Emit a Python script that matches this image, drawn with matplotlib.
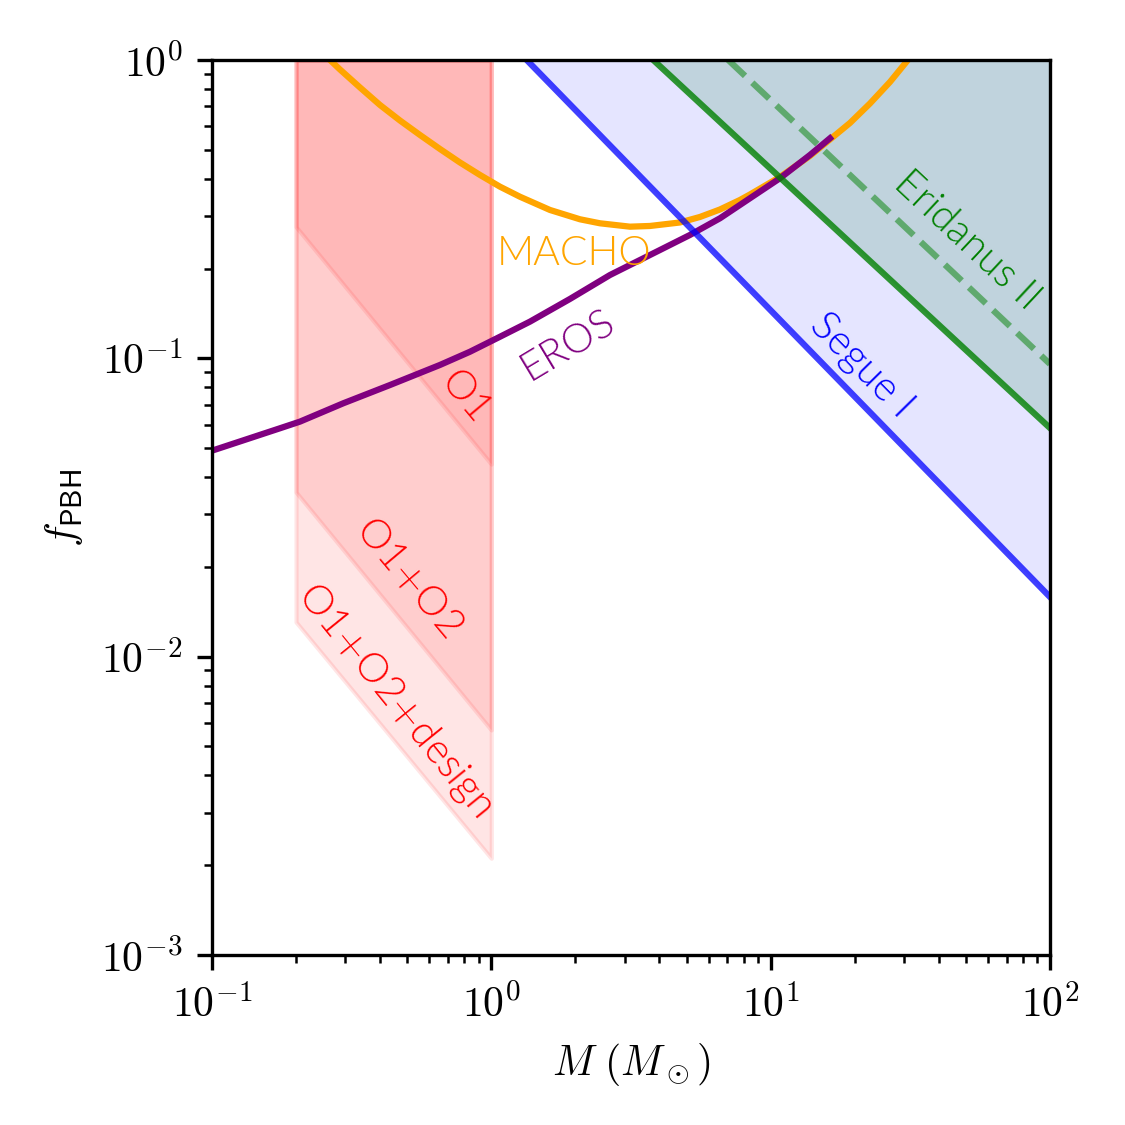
import matplotlib
matplotlib.use("Agg")
import matplotlib.pyplot as plt
from matplotlib.ticker import FuncFormatter, NullFormatter
import numpy as np

plt.rcParams.update(
    {
        "font.family": ["Lato", "DejaVu Sans"],
        "mathtext.fontset": "cm",
        "font.size": 10,
    }
)

# LIGO O1 / O1+O2 / O1+O2+design bands: mass range and lower edge of each band
band_mass = [0.2, 1.0]
o1_low = [0.276, 0.0442]
o12_low = [0.0356, 0.00568]
o12d_low = [0.01306, 0.00211]

# MACHO bound
macho_m = [0.2645, 0.2872, 0.3387, 0.3994, 0.4711, 0.5555, 0.6550, 0.7724, 0.9108, 1.0741,
           1.2667, 1.6222, 2.0775, 2.4497, 3.1371, 3.6993, 4.7371, 5.5857, 6.5865, 7.7668,
           8.4344, 10.80, 13.829, 16.312, 19.234, 22.681, 26.745, 31.02]
macho_f = [1.0, 0.9293, 0.8089, 0.7066, 0.6267, 0.5605, 0.5031, 0.4533, 0.4117, 0.3761,
           0.3480, 0.3142, 0.2924, 0.2835, 0.2762, 0.2777, 0.2853, 0.2977, 0.3154, 0.3394,
           0.3541, 0.4054, 0.4768, 0.5415, 0.6149, 0.7148, 0.8437, 1.0]

# EROS bound
eros_m = [0.1, 0.1751, 0.2065, 0.2953, 0.4337, 0.6549, 0.8387, 1.074, 1.375, 1.912,
          2.660, 4.017, 5.143, 6.588, 8.433, 10.80, 13.83, 16.31]
eros_f = [0.04902, 0.05827, 0.06134, 0.07068, 0.08136, 0.0950, 0.1052, 0.1181, 0.1327,
          0.1581, 0.1902, 0.2307, 0.2591, 0.2947, 0.3439, 0.4014, 0.4803, 0.5464]

# Segue I and Eridanus II (straight lines in log-log)
segue_m = [1.339, 100.0]
segue_f = [1.0, 0.01585]
eri_m = [3.80, 100.0]
eri_f = [1.0, 0.0584]
eri_dash_m = [7.05, 100.0]
eri_dash_f = [1.0, 0.0957]

fig = plt.figure(figsize=(3.75, 3.75), dpi=300)
ax = fig.add_axes([0.1884, 0.1511, 0.7449, 0.7956])
ax.set_xscale("log")
ax.set_yscale("log")

top = [1.0, 1.0]
ax.fill_between(band_mass, o12d_low, top, color="red", alpha=0.1)
ax.fill_between(band_mass, o12_low, top, color="red", alpha=0.1)
ax.fill_between(band_mass, o1_low, top, color="red", alpha=0.1)

ax.fill_between(segue_m, segue_f, top, color="blue", alpha=0.1, linewidth=0)
ax.fill_between(eri_m, eri_f, top, color="seagreen", alpha=0.2, linewidth=0)

ax.plot(macho_m, macho_f, color="orange", lw=1.5)
ax.plot(eros_m, eros_f, color="purple", lw=1.5)
ax.plot(segue_m, segue_f, color="blue", lw=1.5, alpha=0.75)
ax.plot(eri_m, eri_f, color="green", lw=1.5, alpha=0.8)
ax.plot(eri_dash_m, eri_dash_f, color="green", lw=1.5, alpha=0.5, ls="--")

kw = dict(ha="center", va="center", rotation_mode="anchor", fontsize=9.8, fontweight=300)
ax.text(1.045, 0.2055, "MACHO", color="orange", ha="left", va="baseline",
        fontsize=9.8, fontweight=300)
ax.text(1.886, 0.1108, "EROS", color="purple", rotation=31, **kw)
ax.text(0.805, 0.0742, "O1", color="red", rotation=-50, **kw)
ax.text(0.503, 0.01836, r"O1$+$O2", color="red", rotation=-50, **kw)
ax.text(0.456, 0.00716, r"O1$+$O2$+$design", color="red", rotation=-51, **kw)
ax.text(50.5, 0.249, "Eridanus II", color="green", rotation=-43, **kw)
ax.text(21.2, 0.095, "Segue I", color="blue", rotation=-45.5, **kw)

ax.set_xlim(0.1, 100)
ax.set_ylim(1e-3, 1)
fmt = FuncFormatter(lambda v, p: r"$10^{%d}$" % int(round(np.log10(v))))
ax.xaxis.set_major_formatter(fmt)
ax.yaxis.set_major_formatter(fmt)
ax.xaxis.set_minor_formatter(NullFormatter())
ax.yaxis.set_minor_formatter(NullFormatter())
ax.tick_params(which="both", top=False, right=False, labelsize=10)

ax.set_xlabel(r"$M\ (M_\odot)$", fontsize=10)
ax.set_ylabel(r"$f_{\mathsf{PBH}}$", fontsize=10)

fig.savefig("out.png", dpi=300)
